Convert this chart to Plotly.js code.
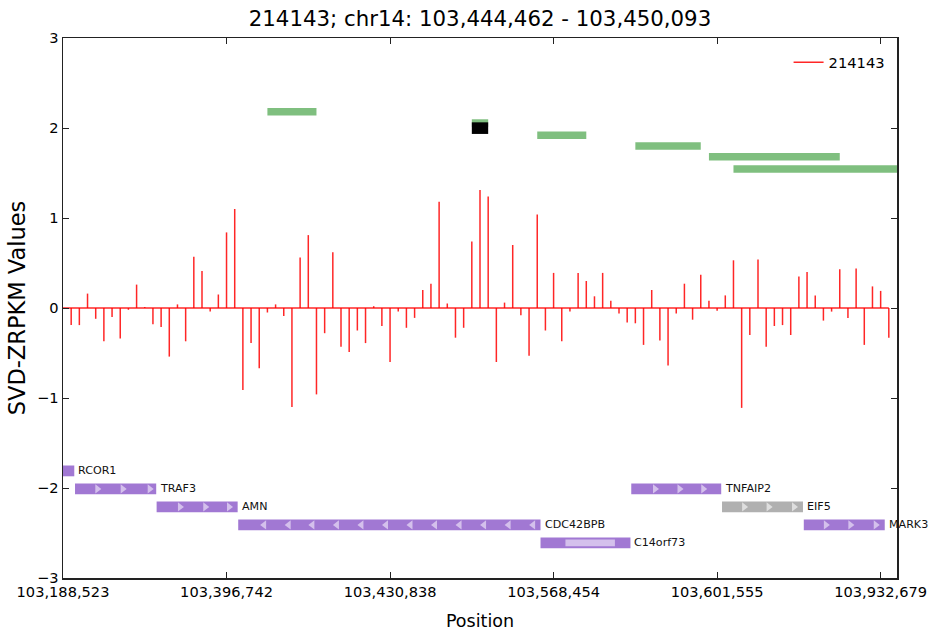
<!DOCTYPE html>
<html><head><meta charset="utf-8">
<script src="https://cdn.plot.ly/plotly-3.0.1.min.js"></script>
<style>html,body{margin:0;padding:0;background:#fff}#chart{width:931px;height:635px}</style>
</head><body><div id="chart"></div>
<script>
const seriesName = '214143';
const chartTitle = '214143; chr14: 103,444,462 - 103,450,093';

// SVD-ZRPKM values, one per probe (index 1..101)
const values = [
  -0.19, -0.19, 0.16, -0.12, -0.37, -0.10, -0.34, -0.02, 0.26, 0.01,
  -0.18, -0.21, -0.54, 0.04, -0.37, 0.57, 0.41, -0.04, 0.15, 0.84,
  1.10, -0.91, -0.39, -0.67, -0.05, 0.04, -0.09, -1.10, 0.56, 0.81,
  -0.96, -0.28, 0.62, -0.43, -0.49, -0.25, -0.39, 0.02, -0.20, -0.60,
  -0.04, -0.22, -0.11, 0.20, 0.27, 1.18, 0.05, -0.33, -0.22, 0.74,
  1.31, 1.24, -0.60, 0.06, 0.70, -0.08, -0.53, 1.04, -0.25, 0.39,
  -0.37, -0.04, 0.39, 0.30, 0.13, 0.39, 0.08, -0.06, -0.16, -0.17,
  -0.41, 0.20, -0.36, -0.64, -0.06, 0.27, -0.13, 0.37, 0.08, -0.03,
  0.14, 0.53, -1.11, -0.30, 0.54, -0.43, -0.20, -0.19, -0.30, 0.35,
  0.40, 0.14, -0.14, -0.04, 0.43, -0.11, 0.44, -0.41, 0.24, 0.19,
  -0.33
];

const tickIndex = [0, 20, 40, 60, 80, 100];
const tickLabels = ['103,188,523', '103,396,742', '103,430,838', '103,568,454', '103,601,555', '103,932,679'];

// called segments (green)
const peakStart = [25, 50, 58, 70, 79, 82];
const peakEnd   = [31, 52, 64, 78, 95, 104];
const peakY     = [2.18, 2.055, 1.92, 1.80, 1.68, 1.545];

// highlighted segment (black)
const markStart = [50];
const markEnd   = [52];
const markY     = [2.0];

// genes
const geneNames  = ['RCOR1', 'TRAF3', 'AMN', 'CDC42BPB', 'C14orf73', 'TNFAIP2', 'EIF5', 'MARK3'];
const geneStart  = [-1, 1.47, 11.45, 21.43, 58.4, 69.5, 80.6, 90.6];
const geneEnd    = [1.38, 11.4, 21.36, 58.4, 69.4, 80.5, 90.5, 100.5];
const geneY      = [-1.81, -2.01, -2.21, -2.41, -2.61, -2.01, -2.21, -2.41];
const geneStrand = ['', '+', '+', '-', '', '+', '+', '+'];
const geneGray   = [false, false, false, false, false, false, true, false];
const geneArrows = [
  [],
  [4.2, 7.3, 10.6],
  [14.3, 17.4, 20.3],
  [24.6, 27.6, 30.5, 33.5, 36.5, 39.5, 42.5, 45.5, 48.5, 51.5, 54.5, 57.5],
  [],
  [72.4, 75.4, 78.3],
  [83.3, 86.3, 89.4],
  [93.3, 96.3, 99.4]
];
// inner (lighter) block of C14orf73
const innerStart = [61.45];
const innerEnd   = [67.5];
const innerY     = [-2.61];

const FONT = 'DejaVu Sans, sans-serif';
const purple = 'rgb(161,120,211)';
const purpleLight = 'rgb(212,192,236)';
const gray = 'rgb(176,176,176)';
const grayLight = 'rgb(222,222,222)';

const traces = [];
// stems
const sx = [], sy = [];
values.forEach((v, i) => { sx.push(i + 1, i + 1, null); sy.push(0, v, null); });
traces.push({x: sx, y: sy, mode: 'lines', name: seriesName, line: {color: 'rgba(255,0,0,0.85)', width: 1.5}, hoverinfo: 'skip'});
// baseline
traces.push({x: [0, values.length], y: [0, 0], mode: 'lines', showlegend: false, line: {color: 'rgba(255,0,0,0.85)', width: 1.5}, hoverinfo: 'skip'});

// gene arrows
geneArrows.forEach((arr, g) => {
  if (!arr.length) return;
  traces.push({
    x: arr, y: arr.map(() => geneY[g]), mode: 'markers', showlegend: false, hoverinfo: 'skip',
    marker: {symbol: geneStrand[g] === '-' ? 'triangle-left' : 'triangle-right', size: 8,
             color: geneGray[g] ? grayLight : purpleLight, line: {width: 0}}
  });
});

const shapes = [];
peakStart.forEach((s, i) => shapes.push({type: 'rect', xref: 'x', yref: 'y', x0: s, x1: peakEnd[i],
  y0: peakY[i] - 0.042, y1: peakY[i] + 0.042, fillcolor: 'rgba(0,128,0,0.5)', line: {width: 0}, layer: 'below'}));
markStart.forEach((s, i) => shapes.push({type: 'rect', xref: 'x', yref: 'y', x0: s, x1: markEnd[i],
  y0: markY[i] - 0.066, y1: markY[i] + 0.063, fillcolor: '#000', line: {width: 0}, layer: 'below'}));
geneStart.forEach((s, i) => shapes.push({type: 'rect', xref: 'x', yref: 'y', x0: Math.max(s, 0), x1: geneEnd[i],
  y0: geneY[i] - 0.06, y1: geneY[i] + 0.06, fillcolor: geneGray[i] ? gray : purple, line: {width: 0}, layer: 'below'}));
innerStart.forEach((s, i) => shapes.push({type: 'rect', xref: 'x', yref: 'y', x0: s, x1: innerEnd[i],
  y0: innerY[i] - 0.037, y1: innerY[i] + 0.037, fillcolor: purpleLight, line: {width: 0}, layer: 'below'}));

const annotations = geneNames.map((n, i) => ({
  x: geneEnd[i], y: geneY[i], xref: 'x', yref: 'y', text: n, showarrow: false,
  xanchor: 'left', yanchor: 'middle', xshift: 3, borderpad: 0, font: {family: FONT, size: 11.1, color: '#111'}
}));

const axisCommon = {
  showline: true, linecolor: '#222', linewidth: 1.5, mirror: 'allticks',
  ticks: 'inside', ticklen: 6, tickwidth: 1, tickcolor: '#222',
  showgrid: false, zeroline: false, tickfont: {family: FONT, size: 14.6, color: '#000'}
};

const layout = {
  width: 931, height: 635,
  margin: {l: 63, r: 34, t: 38, b: 57},
  paper_bgcolor: '#fff', plot_bgcolor: '#fff',
  font: {family: FONT, color: '#000'},
  title: {text: chartTitle, font: {family: FONT, size: 21.3, color: '#000'}, x: 0.5, xref: 'paper', y: 0.971, yanchor: 'middle'},
  xaxis: Object.assign({}, axisCommon, {range: [0, 102], tickmode: 'array', tickvals: tickIndex, ticktext: tickLabels,
    title: {text: 'Position', font: {family: FONT, size: 17.5, color: '#000'}, standoff: 15}}),
  yaxis: Object.assign({}, axisCommon, {range: [-3, 3], tickmode: 'array', tickvals: [-3, -2, -1, 0, 1, 2, 3],
    title: {text: 'SVD-ZRPKM Values', font: {family: FONT, size: 22.5, color: '#000'}, standoff: 5}}),
  showlegend: true,
  legend: {x: 0.87, y: 0.985, xanchor: 'left', yanchor: 'top', bgcolor: 'rgba(255,255,255,0)', borderwidth: 0,
    font: {family: FONT, size: 14.7, color: '#000'}},
  shapes: shapes,
  annotations: annotations
};

Plotly.newPlot('chart', traces, layout, {displayModeBar: false, staticPlot: true});
</script></body></html>
